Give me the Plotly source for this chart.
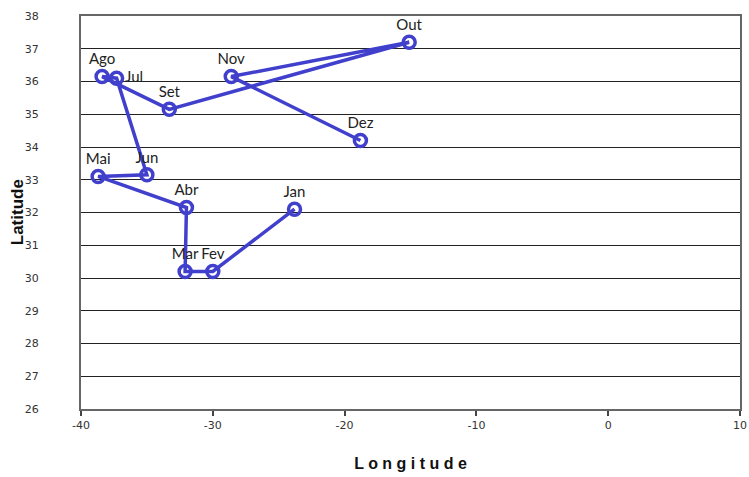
import plotly.graph_objects as go

months = ["Jan", "Fev", "Mar", "Abr", "Mai", "Jun", "Jul", "Ago", "Set", "Out", "Nov", "Dez"]
longitude = [-23.8, -30.0, -32.1, -32.0, -38.7, -35.0, -37.3, -38.4, -33.3, -15.1, -28.6, -18.8]
latitude = [32.1, 30.2, 30.2, 32.15, 33.1, 33.15, 36.1, 36.15, 35.15, 37.2, 36.15, 34.2]
label_pos = ["top center", "top center", "top center", "top center", "top center", "top center",
             "middle right", "top center", "top center", "top center", "top center", "top center"]

x_ticks = [-40, -30, -20, -10, 0, 10]
x_tick_text = ["-40", "-30", "-20", "-10", "0", "10"]
y_ticks = list(range(26, 39))

blue = "rgb(64,64,204)"

fig = go.Figure()
fig.add_trace(go.Scatter(
    x=longitude, y=latitude, mode="lines+markers+text",
    text=months, textposition=label_pos,
    textfont=dict(family="Lato, Open Sans, sans-serif", size=15, color="#222"),
    line=dict(color=blue, width=3.5),
    marker=dict(symbol="circle-open", size=12, color=blue, line=dict(width=3.5, color=blue)),
    showlegend=False, cliponaxis=False,
))

fig.update_layout(
    width=749, height=477,
    margin=dict(l=81, r=9, t=16, b=68),
    paper_bgcolor="white", plot_bgcolor="white",
    xaxis=dict(
        range=[-40, 10], tickvals=x_ticks, ticktext=x_tick_text, showgrid=False, zeroline=False,
        showline=True, linecolor="#666", linewidth=2, mirror=True, automargin=False,
        ticks="outside", ticklen=5, tickcolor="#444", tickwidth=1.5,
        tickfont=dict(family="DejaVu Sans", size=11, color="#333"),
        title=dict(text="<b>L o n g i t u d e</b>", font=dict(family="Liberation Sans, Arial", size=16, color="#111"), standoff=27),
    ),
    yaxis=dict(
        range=[26, 38], tickvals=y_ticks, showgrid=True, gridcolor="#222", gridwidth=1.3,
        zeroline=False, showline=True, linecolor="#666", linewidth=2, mirror=True, automargin=False,
        ticks="", tickfont=dict(family="DejaVu Sans", size=11, color="#333"),
        ticklabelstandoff=38,
    ),
    annotations=[dict(
        text="<b>Latitude</b>", xref="paper", yref="paper", x=-0.096, y=0.5,
        xanchor="center", yanchor="middle", textangle=-90, showarrow=False,
        font=dict(family="Liberation Sans, Arial", size=17, color="#111"),
    )],
)

fig.write_html("out.html", config={"displayModeBar": False},
               post_script="document.body.style.margin='0';")
